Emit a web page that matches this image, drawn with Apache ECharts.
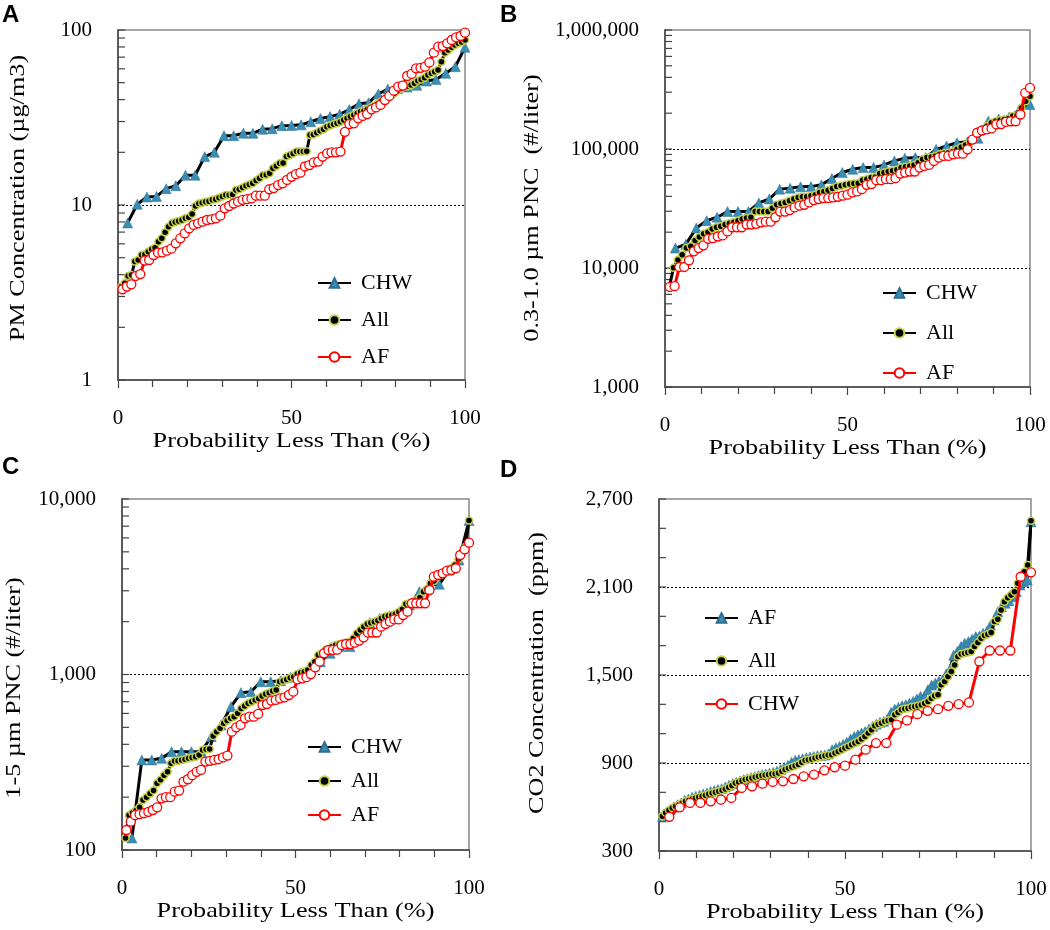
<!DOCTYPE html>
<html>
<head>
<meta charset="utf-8">
<script src="https://cdn.jsdelivr.net/npm/echarts@6/dist/echarts.min.js"></script>
<style>html,body{margin:0;padding:0;background:#fff}#c{width:1050px;height:930px}</style>
</head>
<body>
<div id="c"></div>
<script>
// ---- Panel A: PM concentration (µg/m3), sorted values ----
const A_CHW = [7.9, 10.1, 11.1, 11.2, 12.4, 12.9, 14.8, 14.8, 18.9, 20.0, 24.9, 24.9, 25.7, 25.7, 27.1, 27.3, 28.4, 28.5, 28.7, 29.9, 31.2, 32.0, 33.0, 35.1, 37.9, 38.4, 43.1, 46.0, 46.2, 47.2, 48.3, 51.1, 52.2, 56.6, 61.7, 79.6];
const A_All = [3.42, 3.57, 3.93, 3.98, 4.75, 4.85, 5.18, 5.22, 5.41, 5.58, 5.70, 6.17, 6.45, 6.98, 7.52, 7.86, 8.00, 8.10, 8.21, 8.39, 8.50, 8.89, 9.87, 10.2, 10.3, 10.45, 10.5, 10.7, 10.8, 11.0, 11.2, 11.4, 11.4, 11.5, 12.2, 12.3, 12.6, 12.9, 13.1, 13.3, 13.8, 14.2, 14.8, 14.9, 15.2, 16.2, 16.7, 17.3, 17.4, 18.9, 19.3, 19.7, 20.2, 20.2, 20.2, 20.3, 25.1, 25.3, 25.9, 26.6, 27.1, 28.0, 28.5, 28.9, 29.3, 29.9, 30.6, 31.3, 32.0, 32.7, 33.4, 34.2, 34.5, 35.2, 36.1, 36.8, 37.8, 38.9, 39.8, 40.9, 42.0, 43.5, 45.0, 46.4, 47.5, 47.7, 48.5, 49.6, 51.3, 52.2, 53.4, 55.3, 56.6, 57.8, 59.1, 65.9, 74.2, 76.9, 79.6, 82.1, 83.9, 85.4, 87.7];
const A_AF = [3.30, 3.42, 3.52, 3.93, 4.03, 4.81, 4.85, 5.18, 5.34, 5.36, 5.48, 5.63, 6.04, 6.45, 6.89, 7.36, 7.69, 7.86, 8.03, 8.21, 8.28, 8.39, 8.69, 9.57, 9.87, 10.2, 10.45, 10.7, 10.8, 10.9, 11.3, 11.3, 11.3, 12.3, 12.5, 13.0, 13.3, 13.9, 14.5, 15.0, 15.3, 16.6, 16.9, 17.5, 17.7, 18.9, 19.7, 20.0, 20.0, 20.2, 26.2, 29.0, 29.3, 31.3, 32.3, 33.1, 35.2, 36.1, 37.3, 39.8, 42.0, 45.0, 47.5, 48.1, 54.6, 56.1, 60.4, 60.8, 61.7, 65.3, 74.2, 80.3, 80.9, 83.9, 87.7, 90.8, 92.4, 96.6];

// ---- Panel B: 0.3-1.0 µm PNC (#/liter) ----
const B_CHW = [14700, 15800, 21700, 25000, 26700, 29800, 29800, 29800, 35200, 38000, 46000, 46900, 48100, 48300, 50000, 56500, 63400, 67600, 69800, 69800, 73500, 79400, 83600, 84700, 84700, 99400, 106000, 113000, 115000, 123000, 171000, 179000, 185000, 214000, 236000];
const B_All = [6940, 10060, 11700, 12900, 14700, 15200, 17000, 18200, 19400, 20000, 21300, 22000, 22400, 23200, 23800, 24200, 25000, 25800, 26300, 26700, 29900, 29900, 29900, 29900, 31700, 34000, 34900, 35600, 36800, 38000, 39200, 39700, 39700, 40500, 41300, 43200, 44000, 45100, 46600, 48400, 49100, 50000, 50700, 51300, 51600, 54700, 55800, 57600, 58300, 62200, 63400, 64700, 65500, 66800, 69800, 70800, 72100, 73500, 76900, 82000, 84700, 85800, 87500, 90200, 92000, 93200, 95000, 99400, 104000, 108000, 115000, 123000, 141000, 146000, 156000, 166000, 171000, 174000, 177000, 180000, 189000, 192000, 221000, 252000, 277000];
const B_AF = [6940, 7030, 10200, 10200, 11600, 13800, 14700, 15500, 17600, 17800, 18400, 18800, 20300, 22000, 22000, 22000, 23200, 23200, 23500, 24200, 24500, 24500, 26700, 29800, 29800, 30700, 32300, 33400, 34000, 35600, 37200, 38000, 38700, 38700, 39200, 39700, 40500, 41300, 43200, 44000, 46000, 50000, 50700, 54700, 54700, 55800, 55800, 56900, 62200, 63400, 64700, 64700, 69800, 72100, 73500, 79400, 84700, 87500, 87500, 90200, 91400, 91400, 99400, 120000, 137000, 143000, 146000, 149000, 161000, 162000, 169000, 171000, 171000, 195000, 296000, 326000];

// ---- Panel C: 1-5 µm PNC (#/liter) ----
const C_CHW = [117, 326, 326, 333, 363, 363, 363, 363, 442, 516, 656, 788, 798, 910, 910, 922, 964, 1024, 1061, 1183, 1320, 1442, 1442, 1717, 1974, 2089, 2164, 2280, 2489, 2965, 3236, 3266, 3939, 4490, 7530];
const C_All = [117, 158, 163, 168, 175, 193, 200, 210, 218, 240, 251, 267, 279, 312, 321, 322, 326, 329, 333, 337, 340, 348, 371, 375, 376, 446, 472, 494, 527, 546, 563, 575, 601, 641, 662, 685, 700, 716, 731, 754, 774, 788, 805, 816, 910, 922, 938, 959, 972, 1006, 1024, 1038, 1061, 1133, 1183, 1291, 1320, 1379, 1391, 1442, 1472, 1492, 1505, 1518, 1538, 1607, 1717, 1793, 1874, 1940, 1974, 2000, 2028, 2089, 2137, 2164, 2183, 2213, 2280, 2351, 2522, 2546, 2566, 2659, 2742, 2965, 3058, 3306, 3410, 3609, 3689, 3771, 3939, 4027, 4206, 4530, 4900, 5350, 7530];
const C_AF = [130, 145, 158, 160, 162, 165, 169, 175, 197, 200, 200, 215, 218, 245, 253, 267, 279, 286, 319, 322, 326, 329, 337, 345, 472, 500, 516, 563, 575, 575, 596, 670, 679, 710, 716, 731, 741, 764, 798, 938, 951, 965, 1006, 1099, 1183, 1320, 1379, 1380, 1385, 1472, 1492, 1492, 1518, 1560, 1629, 1731, 1735, 1735, 1874, 1940, 2000, 2061, 2061, 2183, 2280, 2546, 2546, 2546, 2546, 3030, 3609, 3689, 3771, 3905, 3939, 4027, 4797, 5168, 5637];

// ---- Panel D: CO2 concentration (ppm) ----
const D_AF = [537, 560, 582, 601, 616, 628, 646, 655, 666, 673, 680, 689, 696, 705, 712, 719, 725, 737, 748, 759, 768, 778, 787, 793, 800, 807, 814, 821, 825, 830, 836, 843, 855, 871, 884, 905, 918, 923, 929, 936, 941, 945, 950, 952, 954, 961, 991, 1004, 1013, 1027, 1041, 1063, 1081, 1093, 1104, 1115, 1131, 1150, 1165, 1177, 1184, 1199, 1245, 1267, 1279, 1290, 1297, 1308, 1320, 1336, 1354, 1354, 1399, 1431, 1444, 1458, 1467, 1508, 1540, 1635, 1660, 1694, 1717, 1728, 1744, 1762, 1766, 1785, 1796, 1841, 1875, 1932, 1966, 1989, 2007, 2034, 2068, 2114, 2136, 2148, 2545];
const D_All = [537, 560, 578, 594, 605, 616, 628, 639, 646, 655, 662, 669, 673, 680, 689, 696, 700, 707, 714, 723, 734, 746, 764, 771, 780, 787, 793, 798, 805, 809, 814, 818, 821, 825, 827, 832, 843, 855, 864, 873, 882, 889, 905, 918, 923, 927, 934, 941, 945, 950, 954, 957, 968, 979, 991, 1002, 1013, 1025, 1036, 1047, 1063, 1081, 1104, 1127, 1154, 1165, 1172, 1184, 1190, 1195, 1229, 1245, 1263, 1270, 1274, 1281, 1286, 1290, 1297, 1308, 1320, 1342, 1358, 1365, 1433, 1456, 1490, 1524, 1569, 1626, 1644, 1649, 1653, 1660, 1694, 1721, 1751, 1769, 1778, 1789, 1864, 1880, 1943, 2000, 2027, 2046, 2068, 2125, 2170, 2204, 2250, 2551];
const D_CHW = [533, 598, 628, 628, 639, 650, 662, 730, 741, 759, 771, 775, 791, 809, 821, 850, 871, 882, 923, 991, 1036, 1036, 1161, 1190, 1233, 1256, 1267, 1290, 1301, 1313, 1592, 1667, 1667, 1667, 2170, 2200];

// ---- Text and axis reference values ----
const panelLetters = ['A', 'B', 'C', 'D'];
const xTitle = 'Probability Less Than (%)';
const yTitles = ['PM Concentration (µg/m3)', '0.3-1.0 µm PNC  (#/liter)', '1-5 µm PNC (#/liter)', 'CO2 Concentration  (ppm)'];
const xTicks = [0, 50, 100];
const gridLinesA = [10];
const gridLinesB = [10000, 100000];
const gridLinesC = [1000];
const gridLinesD = [900, 1500, 2100];

// empirical cumulative probability (%) for each sorted value
function cdf(vals) { return vals.map((v, i) => [(i + 1) / vals.length * 100, v]); }
// y-axis tick positions (majors + minors)
function logTicks(lo, hi) { const t = []; for (let d = lo; d < hi; d *= 10) for (let k = 1; k < 10; k++) t.push(d * k); t.push(hi); return t; }
function linTicks(lo, hi, step) { const t = []; for (let v = lo; v <= hi; v += step) t.push(v); return t; }

const SERIF = '"Liberation Serif", "Times New Roman", serif';
const AX = '#444';

const STY = {
  tri: { symbol: 'triangle', symbolSize: 10, itemStyle: { color: '#3a8db3', borderColor: '#2b6f8e', borderWidth: 0.5 }, lineStyle: { color: '#000', width: 3 } },
  dot: { symbol: 'circle', symbolSize: 7, itemStyle: { color: '#000', borderColor: '#c4cf4a', borderWidth: 1.5 }, lineStyle: { color: '#000', width: 3 } },
  ring: { symbol: 'circle', symbolSize: 9, itemStyle: { color: '#fff', borderColor: '#ff0000', borderWidth: 1.3 }, lineStyle: { color: '#ff0000', width: 3 } }
};

const grids = [
  { left: 118, top: 30, width: 347, height: 350 },
  { left: 665, top: 30, width: 365, height: 357 },
  { left: 122, top: 499, width: 347, height: 351 },
  { left: 659, top: 499, width: 372, height: 352 }
];

const panels = [
  { series: [['CHW', A_CHW, 'tri'], ['All', A_All, 'dot'], ['AF', A_AF, 'ring']], y: { type: 'log', logBase: 10, min: 1, max: 100 }, ticks: logTicks(1, 100), lines: gridLinesA,
    legend: { left: 312, top: 267, itemGap: 15 }, yTitle: [18, 198], xTitle: [291.5, 441] },
  { series: [['CHW', B_CHW, 'tri'], ['All', B_All, 'dot'], ['AF', B_AF, 'ring']], y: { type: 'log', logBase: 10, min: 1000, max: 1000000 }, ticks: logTicks(1000, 1000000), lines: gridLinesB,
    legend: { left: 877, top: 277, itemGap: 18 }, yTitle: [532, 208], xTitle: [847.5, 448] },
  { series: [['CHW', C_CHW, 'tri'], ['All', C_All, 'dot'], ['AF', C_AF, 'ring']], y: { type: 'log', logBase: 10, min: 100, max: 10000 }, ticks: logTicks(100, 10000), lines: gridLinesC,
    legend: { left: 302, top: 731, itemGap: 12 }, yTitle: [14, 688], xTitle: [295.5, 911] },
  { series: [['AF', D_AF, 'tri'], ['All', D_All, 'dot'], ['CHW', D_CHW, 'ring']], y: { type: 'value', min: 300, max: 2700, interval: 600 }, ticks: linTicks(300, 2700, 200), lines: gridLinesD,
    legend: { left: 699, top: 602, itemGap: 21 }, yTitle: [537, 673], xTitle: [845, 912] }
];

function fmt(v) { return Math.round(v).toLocaleString('en-US'); }

const LETTER_FONT = 'bold 24px "Liberation Sans", Arial, sans-serif';
const TITLE_FONT = '21px ' + SERIF;

const graphic = [
  { type: 'text', left: 2, top: 3, style: { text: 'A', font: LETTER_FONT, fill: '#000' } },
  { type: 'text', left: 500, top: 3, style: { text: 'B', font: LETTER_FONT, fill: '#000' } },
  { type: 'text', left: 2, top: 455, style: { text: 'C', font: LETTER_FONT, fill: '#000' } },
  { type: 'text', left: 500, top: 458, style: { text: 'D', font: LETTER_FONT, fill: '#000' } }
];
panels.forEach((p, i) => {
  graphic.push({ type: 'text', x: p.xTitle[0], y: p.xTitle[1], scaleX: 1.25, style: { text: xTitle, font: TITLE_FONT, fill: '#000', align: 'center', verticalAlign: 'middle' } });
  graphic.push({ type: 'text', x: p.yTitle[0], y: p.yTitle[1], rotation: Math.PI / 2, scaleX: 1.25, style: { text: yTitles[i], font: TITLE_FONT, fill: '#000', align: 'center', verticalAlign: 'middle' } });
});

const option = {
  animation: false,
  backgroundColor: '#fff',
  grid: grids.map(g => Object.assign({ show: true, borderColor: '#888', borderWidth: 1.5, backgroundColor: 'transparent' }, g)),
  xAxis: grids.map((g, i) => ({
    type: 'value', gridIndex: i, min: 0, max: 100, interval: 50,
    axisLine: { show: true, lineStyle: { color: AX, width: 1.5 } },
    axisTick: { show: true, inside: false, length: 8, lineStyle: { color: AX, width: 1.2 } },
    minorTick: { show: true, splitNumber: 5, length: 7, lineStyle: { color: AX, width: 1.2 } },
    splitLine: { show: false },
    axisLabel: { margin: 28, fontFamily: SERIF, fontSize: 21, color: '#000', formatter: v => xTicks.includes(v) ? String(v) : '' }
  })),
  yAxis: panels.map((p, i) => Object.assign({
    gridIndex: i,
    axisLine: { show: true, lineStyle: { color: AX, width: 1.5 } },
    axisTick: { show: false },
    minorTick: { show: false },
    splitLine: { show: false },
    axisLabel: { margin: 26, fontFamily: SERIF, fontSize: 21, color: '#000', formatter: fmt }
  }, p.y)),
  legend: panels.map((p, i) => ({
    orient: 'vertical', left: p.legend.left, top: p.legend.top, itemGap: p.legend.itemGap,
    itemWidth: 33, itemHeight: 12, selectedMode: false,
    data: p.series.map(s => panelLetters[i] + '|' + s[0]),
    formatter: n => n.split('|')[1],
    textStyle: { fontFamily: SERIF, fontSize: 22, color: '#000', padding: [0, 0, 0, 5] }
  })),
  series: [],
  graphic: graphic
};

panels.forEach((p, i) => {
  // inward y-axis ticks (major + minor), placed through the axis scale
  option.series.push({
    type: 'custom', xAxisIndex: i, yAxisIndex: i, silent: true, clip: false, z: 1,
    data: p.ticks.map(v => [0, v]), encode: { x: 0, y: 1 },
    renderItem: (params, api) => {
      const pt = api.coord([0, api.value(1)]);
      return { type: 'line', shape: { x1: pt[0], y1: pt[1], x2: pt[0] + 7, y2: pt[1] }, style: { stroke: AX, lineWidth: 1.2 } };
    }
  });
  p.series.forEach((s, k) => {
    const st = STY[s[2]];
    const ser = {
      type: 'line', name: panelLetters[i] + '|' + s[0],
      xAxisIndex: i, yAxisIndex: i, clip: false, z: 3 + k,
      data: cdf(s[1]),
      symbol: st.symbol, symbolSize: st.symbolSize, showAllSymbol: true,
      itemStyle: st.itemStyle, lineStyle: st.lineStyle
    };
    if (k === 0) {
      ser.markLine = { silent: true, symbol: 'none', label: { show: false }, z: 1,
        lineStyle: { type: [2, 2], color: '#000', width: 1 },
        data: p.lines.map(v => ({ yAxis: v })) };
    }
    option.series.push(ser);
  });
});

const chart = echarts.init(document.getElementById('c'), null, { renderer: 'canvas' });
chart.setOption(option);
</script>
</body>
</html>
